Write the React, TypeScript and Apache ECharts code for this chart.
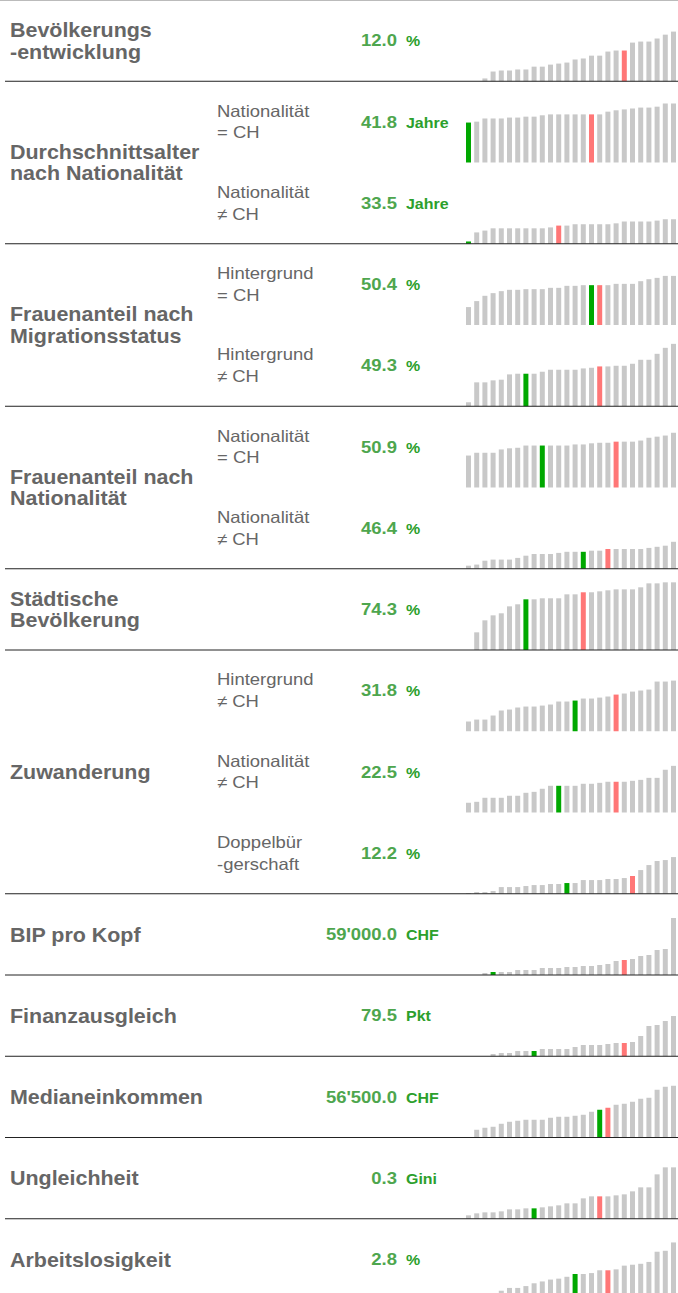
import React, { useEffect, useRef } from 'react';
import * as echarts from 'echarts';

// ---- text content ----
const groupLabels = [
  'Bevölkerungs\n-entwicklung',
  'Durchschnittsalter\nnach Nationalität',
  'Frauenanteil nach\nMigrationsstatus',
  'Frauenanteil nach\nNationalität',
  'Städtische\nBevölkerung',
  'Zuwanderung',
  'BIP pro Kopf',
  'Finanzausgleich',
  'Medianeinkommen',
  'Ungleichheit',
  'Arbeitslosigkeit',
];
const groupSizes = [1, 2, 2, 2, 1, 3, 1, 1, 1, 1, 1];
const subLabels = [
  '', 'Nationalität\n= CH', 'Nationalität\n≠ CH', 'Hintergrund\n= CH', 'Hintergrund\n≠ CH',
  'Nationalität\n= CH', 'Nationalität\n≠ CH', '', 'Hintergrund\n≠ CH', 'Nationalität\n≠ CH',
  'Doppelbür\n-gerschaft', '', '', '', '', '',
];
const valueTexts = ['12.0', '41.8', '33.5', '50.4', '49.3', '50.9', '46.4', '74.3', '31.8', '22.5', '12.2', "59'000.0", '79.5', "56'500.0", '0.3', '2.8'];
const unitTexts = ['%', 'Jahre', 'Jahre', '%', '%', '%', '%', '%', '%', '%', '%', 'CHF', 'Pkt', 'CHF', 'Gini', '%'];

// ---- sparkline values (26 cantons, sorted) ----
const bevoelkerungsentwicklung = [0, 0, 1.1, 3.8, 4.2, 4.2, 4.6, 4.6, 5.7, 5.7, 6.5, 6.9, 7.3, 8.5, 8.9, 10.0, 10.0, 11.6, 12.0, 12.0, 15.1, 15.5, 15.5, 16.7, 18.2, 19.4];
const alterCH = [41.8, 42.0, 42.7, 42.7, 42.7, 42.9, 42.9, 43.1, 43.1, 43.4, 43.6, 43.6, 43.6, 43.6, 43.6, 43.6, 43.6, 44.2, 44.5, 44.7, 44.9, 45.1, 45.1, 45.3, 46.0, 46.0];
const alterAusland = [33.5, 35.5, 35.9, 36.4, 36.4, 36.4, 36.4, 36.4, 36.4, 36.4, 36.6, 37.0, 37.0, 37.3, 37.3, 37.3, 37.3, 37.3, 37.5, 37.9, 37.9, 37.9, 37.9, 38.1, 38.4, 38.4];
const frauenMigCH = [47.1, 48.0, 48.8, 49.2, 49.5, 49.7, 49.7, 49.8, 49.8, 49.8, 50.0, 50.0, 50.3, 50.3, 50.4, 50.4, 50.4, 50.4, 50.6, 50.6, 50.6, 51.0, 51.3, 51.5, 51.8, 51.8];
const frauenMigAusland = [45.0, 48.0, 48.0, 48.3, 48.4, 49.2, 49.3, 49.3, 49.3, 49.6, 49.9, 49.9, 49.9, 49.9, 50.1, 50.2, 50.4, 50.4, 50.5, 50.5, 50.8, 51.4, 51.4, 52.3, 53.2, 53.8];
const frauenNatCH = [49.1, 49.6, 49.6, 49.6, 50.2, 50.4, 50.5, 50.9, 50.9, 50.9, 50.9, 50.9, 50.9, 51.1, 51.1, 51.3, 51.4, 51.4, 51.6, 51.6, 51.6, 51.8, 52.3, 52.5, 52.7, 53.2];
const frauenNatAusland = [43.9, 44.1, 44.8, 45.0, 45.0, 45.0, 45.3, 45.7, 46.0, 46.0, 46.0, 46.2, 46.4, 46.4, 46.4, 46.6, 46.6, 46.9, 46.9, 46.9, 46.9, 46.9, 47.1, 47.3, 47.5, 48.2];
const staedtisch = [0, 25.9, 43.5, 50.8, 53.8, 64.0, 67.0, 74.3, 74.3, 75.8, 75.8, 75.8, 81.6, 81.6, 84.6, 84.6, 86.0, 87.5, 88.9, 88.9, 88.9, 91.9, 97.7, 97.7, 99.2, 99.2];
const zuwHintergrund = [10.1, 12.1, 12.1, 16.3, 21.5, 22.5, 24.6, 25.6, 25.6, 26.6, 27.7, 30.8, 30.8, 31.8, 33.9, 33.9, 34.9, 36.0, 38.0, 39.1, 41.1, 42.2, 43.2, 51.5, 51.5, 52.5];
const zuwNationalitaet = [8.2, 9.0, 12.4, 12.4, 12.4, 14.1, 14.1, 16.6, 17.4, 20.0, 22.5, 22.5, 22.5, 22.5, 24.2, 24.2, 25.0, 25.9, 25.9, 25.9, 26.7, 27.5, 29.2, 29.2, 36.0, 39.3];
const zuwDoppel = [0.8, 1.9, 1.9, 3.1, 7.6, 7.6, 7.6, 8.8, 9.9, 9.9, 11.1, 11.1, 12.2, 12.2, 15.6, 15.6, 15.6, 16.8, 16.8, 17.9, 20.2, 27.0, 32.7, 37.3, 38.4, 41.8];
const bipProKopf = [53000, 53000, 57000, 59000, 59000, 59000, 63000, 63000, 63000, 67000, 67000, 67000, 69000, 69000, 71000, 71000, 73000, 75000, 81000, 83000, 85000, 91000, 93000, 103000, 105000, 167000];
const finanzausgleich = [66, 66, 66, 71.8, 74.3, 74.3, 79.5, 79.5, 79.5, 84.6, 84.6, 84.6, 84.6, 89.7, 94.8, 94.8, 94.8, 97.4, 100.0, 100.0, 102.5, 117.9, 143.5, 146.1, 156.3, 169.1];
const medianeinkommen = [45400, 48500, 49300, 49700, 50900, 51700, 52100, 52500, 52500, 52500, 53300, 53700, 53700, 54100, 54500, 55700, 56500, 57300, 58500, 58900, 59700, 60900, 61300, 64500, 65700, 66100];
const ungleichheit = [0.267, 0.277, 0.282, 0.282, 0.287, 0.297, 0.297, 0.302, 0.302, 0.307, 0.312, 0.317, 0.327, 0.327, 0.352, 0.362, 0.362, 0.362, 0.367, 0.372, 0.387, 0.407, 0.407, 0.472, 0.507, 0.507];
const arbeitslosigkeit = [0.5, 0.6, 0.7, 0.7, 1.0, 1.3, 1.3, 1.5, 1.8, 2.0, 2.2, 2.3, 2.5, 2.8, 2.8, 2.9, 3.2, 3.2, 3.3, 3.7, 3.8, 3.9, 4.1, 5.2, 5.3, 6.2];

const sparkValues = [
  bevoelkerungsentwicklung, alterCH, alterAusland, frauenMigCH, frauenMigAusland,
  frauenNatCH, frauenNatAusland, staedtisch, zuwHintergrund, zuwNationalitaet, zuwDoppel,
  bipProKopf, finanzausgleich, medianeinkommen, ungleichheit, arbeitslosigkeit,
];
const greenIdx = [-1, 0, 0, 15, 7, 9, 14, 7, 13, 11, 12, 3, 8, 16, 8, 13];
const redIdx = [19, 15, 11, 16, 16, 18, 17, 14, 18, 18, 20, 19, 19, 17, 16, 17];
const yMins = [0, 33, 33, 44.4, 44.4, 43.35, 43.35, 0, 0, 0, 0, 53000, 66, 45400, 0.25, 0];
const yMaxs = [31.74, 50.9, 50.9, 56.64, 56.64, 57.97, 57.97, 119.1, 84.2, 68.45, 92.6, 215500, 274.2, 77900, 0.65625, 8.75];

// ---- layout / style ----
const ROW_H = 81.25;
const FONT = 'Liberation Sans, Arial, Helvetica, sans-serif';
const GRAY = '#c8c8c8';
const GREEN = '#00a800';
const RED = '#ff7777';

function txt(text: string, x: number, y: number, size: number, weight: string, color: string, align: string, sx: number) {
  return {
    type: 'text',
    x,
    y,
    scaleX: sx,
    z: 20,
    silent: true,
    style: {
      text,
      fill: color,
      fontSize: size,
      fontWeight: weight,
      fontFamily: FONT,
      lineHeight: 21.6,
      align,
      textAlign: align,
      verticalAlign: 'middle',
      textVerticalAlign: 'middle',
    },
  };
}

export default function App() {
  const ref = useRef<HTMLDivElement>(null);
  useEffect(() => {
    const chart = echarts.init(ref.current!, null, { renderer: 'svg' });
    const n = sparkValues.length;
    const grids: any[] = [];
    const xAxes: any[] = [];
    const yAxes: any[] = [];
    const series: any[] = [];
    for (let i = 0; i < n; i++) {
      grids.push({ left: 464.4, width: 213.2, top: i * ROW_H, height: ROW_H, containLabel: false });
      xAxes.push({ type: 'category', gridIndex: i, data: sparkValues[i].map((_, k) => String(k)), show: false, boundaryGap: true });
      yAxes.push({ type: 'value', gridIndex: i, min: yMins[i], max: yMaxs[i], show: false });
      series.push({
        type: 'bar',
        xAxisIndex: i,
        yAxisIndex: i,
        barWidth: 5,
        silent: true,
        clip: true,
        data: sparkValues[i].map((v, k) => ({
          value: v,
          itemStyle: { color: k === greenIdx[i] ? GREEN : k === redIdx[i] ? RED : GRAY },
        })),
      });
    }

    const graphics: any[] = [];
    graphics.push({ type: 'line', z: 30, silent: true, shape: { x1: 0, y1: 0.5, x2: 678, y2: 0.5 }, style: { stroke: '#bbbbbb', lineWidth: 1 } });
    let row = 0;
    groupSizes.forEach((size, g) => {
      const top = row * ROW_H;
      const bottom = (row + size) * ROW_H;
      graphics.push(txt(groupLabels[g], 10, (top + bottom) / 2, 19.5, 'bold', '#666666', 'left', 1.1));
      for (let s = 0; s < size; s++) {
        const r = row + s;
        const cy = r * ROW_H + ROW_H / 2;
        if (subLabels[r]) graphics.push(txt(subLabels[r], 217, cy, 16.5, 'normal', '#666666', 'left', 1.12));
        graphics.push(txt(valueTexts[r], 397, cy, 16.5, 'bold', '#4ea64e', 'right', 1.12));
        graphics.push(txt(unitTexts[r], 406, cy + 0.5, 14, 'bold', '#2ca02c', 'left', 1.14));
      }
      row += size;
      if (bottom < 1290) {
        graphics.push({ type: 'line', z: 30, silent: true, shape: { x1: 5, y1: bottom, x2: 678, y2: bottom }, style: { stroke: '#222222', lineWidth: 1 } });
      }
    });

    chart.setOption({
      animation: false,
      backgroundColor: '#ffffff',
      grid: grids,
      xAxis: xAxes,
      yAxis: yAxes,
      series,
      graphic: { elements: graphics },
    });
    return () => chart.dispose();
  }, []);
  return (
    <div style={{ position: 'absolute', left: 0, top: 0, width: 678, height: 1293, overflow: 'hidden' }}>
      <div ref={ref} style={{ width: 678, height: 1300 }} />
    </div>
  );
}
